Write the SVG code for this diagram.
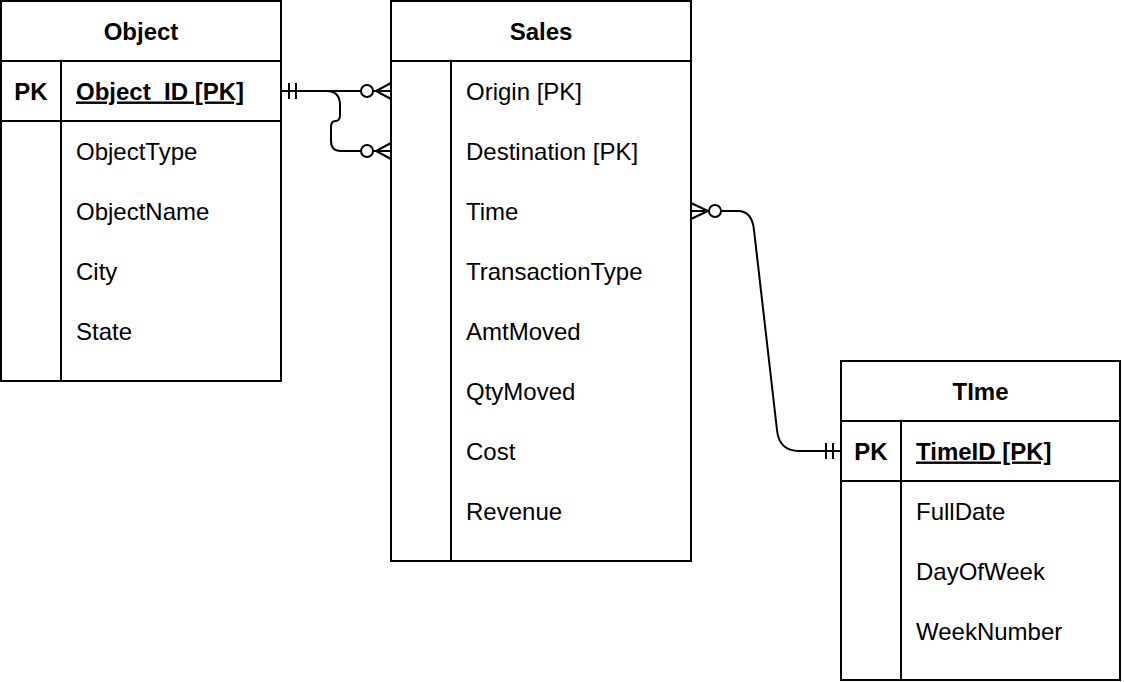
<svg xmlns="http://www.w3.org/2000/svg" width="1124" height="682" viewBox="0 0 1124 682">
<style>
.box{fill:#fff;stroke:#000;stroke-width:2}
.ln{stroke:#000;stroke-width:2;fill:none}
.t{font-family:"Liberation Sans",Helvetica,Arial,sans-serif;font-size:24px;fill:#000}
.b{font-weight:bold}
.c{text-anchor:middle}
.u{text-decoration:underline}
.e{stroke:#000;stroke-width:2;fill:none}
.o{stroke:#000;stroke-width:2;fill:#fff}
</style>
<rect width="1124" height="682" fill="#fff"/>
<g id="connectors">
  <!-- Object -> Sales Origin -->
  <path class="e" d="M281,91 H361"/>
  <line class="e" x1="289" y1="83" x2="289" y2="99"/>
  <line class="e" x1="296" y1="83" x2="296" y2="99"/>
  <circle class="o" cx="367" cy="91" r="6"/>
  <path class="e" d="M373,91 H391 M391,83 L376,91 L391,99"/>
  <!-- Object -> Sales Destination -->
  <path class="e" d="M310,91 H326 Q340,91 340,105 V115 Q340,121 335.5,121 Q331,121 331,127 V141 Q331,151 341,151 H361"/>
  <circle class="o" cx="367" cy="151" r="6"/>
  <path class="e" d="M373,151 H391 M391,143 L376,151 L391,159"/>
  <!-- Sales Time -> Time TimeID -->
  <path class="e" d="M691,211 H709 M691,203 L708,211 L691,219"/>
  <circle class="o" cx="715" cy="211" r="6"/>
  <path class="e" d="M721,211 H738 Q752,211 754,230 L777,430 Q779,451 799,451 H841"/>
  <line class="e" x1="826" y1="443" x2="826" y2="459"/>
  <line class="e" x1="833" y1="443" x2="833" y2="459"/>
</g>
<g id="object">
  <rect class="box" x="1" y="1" width="280" height="380"/>
  <line class="ln" x1="1" y1="61" x2="281" y2="61"/>
  <line class="ln" x1="1" y1="121" x2="281" y2="121"/>
  <line class="ln" x1="61" y1="61" x2="61" y2="381"/>
  <text class="t b c" x="141" y="39.5">Object</text>
  <text class="t b c" x="31" y="99.5">PK</text>
  <text class="t b u" x="76" y="99.5">Object_ID [PK]</text>
  <text class="t" x="76" y="159.5">ObjectType</text>
  <text class="t" x="76" y="219.5">ObjectName</text>
  <text class="t" x="76" y="279.5">City</text>
  <text class="t" x="76" y="339.5">State</text>
</g>
<g id="sales">
  <rect class="box" x="391" y="1" width="300" height="560"/>
  <line class="ln" x1="391" y1="61" x2="691" y2="61"/>
  <line class="ln" x1="451" y1="61" x2="451" y2="561"/>
  <text class="t b c" x="541" y="39.5">Sales</text>
  <text class="t" x="466" y="99.5">Origin [PK]</text>
  <text class="t" x="466" y="159.5">Destination [PK]</text>
  <text class="t" x="466" y="219.5">Time</text>
  <text class="t" x="466" y="279.5">TransactionType</text>
  <text class="t" x="466" y="339.5">AmtMoved</text>
  <text class="t" x="466" y="399.5">QtyMoved</text>
  <text class="t" x="466" y="459.5">Cost</text>
  <text class="t" x="466" y="519.5">Revenue</text>
</g>
<g id="time">
  <rect class="box" x="841" y="361" width="279" height="319"/>
  <line class="ln" x1="841" y1="421" x2="1120" y2="421"/>
  <line class="ln" x1="841" y1="481" x2="1120" y2="481"/>
  <line class="ln" x1="901" y1="421" x2="901" y2="680"/>
  <text class="t b c" x="980.5" y="399.5">TIme</text>
  <text class="t b c" x="871" y="459.5">PK</text>
  <text class="t b u" x="916" y="459.5">TimeID [PK]</text>
  <text class="t" x="916" y="519.5">FullDate</text>
  <text class="t" x="916" y="579.5">DayOfWeek</text>
  <text class="t" x="916" y="639.5">WeekNumber</text>
</g>
</svg>
